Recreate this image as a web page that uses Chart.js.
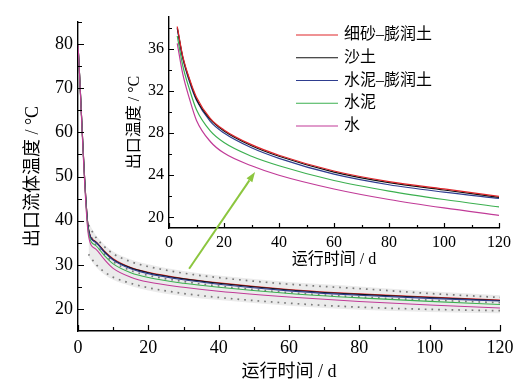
<!DOCTYPE html>
<html>
<head>
<meta charset="utf-8">
<script src="https://cdn.jsdelivr.net/npm/chart.js@4.4.1/dist/chart.umd.min.js"></script>
<style>
    html, body { margin: 0; padding: 0; background: #fff; }
    #wrap { position: relative; width: 528px; height: 386px; }
    #wrap canvas { position: absolute; left: 0; top: 0; }
</style>
</head>
<body>
<div id="wrap">
    <canvas id="mainChart" width="528" height="386"></canvas>
    <canvas id="insetChart" width="528" height="386"></canvas>
</div>
<script>
// running time (d)
const days = [3, 5, 7.5, 10, 15, 20, 30, 40, 60, 80, 100, 120];
const startTemp = 80;

// outlet temperature (°C) per backfill material
const fineSandBentonite = [38.1, 35.3, 33.1, 31.4, 29.4, 28.3, 26.9, 25.9, 24.4, 23.4, 22.7, 22.0];
const sandySoil         = [38.0, 35.2, 33.0, 31.2, 29.3, 28.2, 26.8, 25.8, 24.3, 23.3, 22.6, 21.9];
const cementBentonite   = [37.9, 35.1, 32.8, 31.1, 29.1, 28.0, 26.6, 25.6, 24.1, 23.1, 22.4, 21.8];
const cement            = [37.2, 34.4, 32.1, 30.2, 28.2, 27.1, 25.8, 24.9, 23.5, 22.5, 21.7, 21.0];
const water             = [36.5, 33.6, 31.2, 29.2, 27.2, 26.1, 24.9, 24.0, 22.7, 21.7, 20.9, 20.2];

// grey scatter band in the main plot
const bandUpper = [39.5, 36.8, 34.6, 33.0, 31.2, 30.1, 28.6, 27.6, 26.1, 25.1, 24.0, 23.1];
const bandLower = [31.8, 29.6, 27.8, 26.6, 25.2, 24.2, 22.9, 22.0, 20.7, 19.8, 19.3, 19.0];
const dotUpper  = [39.0, 36.3, 34.1, 32.5, 30.7, 29.6, 28.1, 27.1, 25.6, 24.6, 23.5, 22.6];
const dotMid    = [37.5, 34.7, 32.4, 30.7, 28.7, 27.6, 26.2, 25.2, 23.7, 22.7, 22.0, 21.4];
const dotLower  = [32.4, 30.2, 28.4, 27.2, 25.8, 24.8, 23.5, 22.6, 21.3, 20.4, 19.9, 19.6];

const seriesNames = ['细砂–膨润土', '沙土', '水泥–膨润土', '水泥', '水'];
const seriesColors = ['#e0262b', '#111111', '#2e3d8f', '#3cb050', '#c13b98'];
const seriesValues = [fineSandBentonite, sandySoil, cementBentonite, cement, water];

const mainXTicks = [0, 20, 40, 60, 80, 100, 120];
const mainXMinor = [10, 30, 50, 70, 90, 110];
const mainYTicks = [20, 30, 40, 50, 60, 70, 80];
const mainYMinor = [25, 35, 45, 55, 65, 75, 85];
const insetXTicks = [0, 20, 40, 60, 80, 100, 120];
const insetXMinor = [10, 30, 50, 70, 90, 110];
const insetYTicks = [20, 24, 28, 32, 36];
const insetYMinor = [22, 26, 30, 34, 38];

// arrow: from a point of the main plot to a point of the inset
const arrowFrom = [31.6, 29.1];
const arrowTo = [31.3, 24.3];

const serif = "'Liberation Serif', 'Noto Sans CJK SC', serif";

function toPoints(values) {
    return days.map((d, i) => ({ x: d, y: values[i] }));
}

// ticks pointing into the plot
const inwardTicks = {
    id: 'inwardTicks',
    afterDraw(chart, args, opts) {
        const { ctx, chartArea: a, scales: { x, y } } = chart;
        ctx.save();
        ctx.strokeStyle = '#000';
        ctx.lineWidth = 1.2;
        ctx.beginPath();
        opts.xMajor.forEach(v => { let p = Math.round(x.getPixelForValue(v)) + 0.5; ctx.moveTo(p, a.bottom); ctx.lineTo(p, a.bottom - opts.major); });
        opts.xMinor.forEach(v => { let p = Math.round(x.getPixelForValue(v)) + 0.5; ctx.moveTo(p, a.bottom); ctx.lineTo(p, a.bottom - opts.minor); });
        opts.yMajor.forEach(v => { let p = Math.round(y.getPixelForValue(v)) + 0.5; ctx.moveTo(a.left, p); ctx.lineTo(a.left + opts.major, p); });
        opts.yMinor.forEach(v => { let p = Math.round(y.getPixelForValue(v)) + 0.5; ctx.moveTo(a.left, p); ctx.lineTo(a.left + opts.minor, p); });
        ctx.stroke();
        ctx.restore();
    }
};

function axisOptions(min, max, ticks, fontSize, title, extra) {
    return Object.assign({
        type: 'linear',
        min: min,
        max: max,
        afterBuildTicks: s => { s.ticks = ticks.map(v => ({ value: v })); },
        grid: { display: true, drawOnChartArea: false, drawTicks: false },
        border: { display: true, color: '#000', width: 1.4 },
        ticks: { color: '#000', font: { family: serif, size: fontSize }, maxRotation: 0, autoSkip: false },
        title: { display: true, text: title, color: '#000', font: { family: serif, size: fontSize } }
    }, extra);
}

// main chart
let mainDatasets = [
    { data: toPoints(bandUpper), borderWidth: 0, pointRadius: 0, fill: '+1', backgroundColor: 'rgba(170,170,170,0.24)', order: 20 },
    { data: toPoints(bandLower), borderWidth: 0, pointRadius: 0, fill: false, order: 19 },
    { data: toPoints(dotUpper), borderWidth: 1.7, borderColor: '#7a7a7a', borderDash: [1.7, 5], pointRadius: 0, fill: false, order: 18 },
    { data: toPoints(dotMid), borderWidth: 1.7, borderColor: '#7a7a7a', borderDash: [1.7, 5], pointRadius: 0, fill: false, order: 17 },
    { data: toPoints(dotLower), borderWidth: 1.7, borderColor: '#7a7a7a', borderDash: [1.7, 5], pointRadius: 0, fill: false, order: 16 }
];
seriesValues.forEach((vals, i) => {
    mainDatasets.push({
        label: seriesNames[i],
        data: [{ x: 0, y: startTemp }].concat(toPoints(vals)),
        borderColor: seriesColors[i],
        borderWidth: 1.1,
        pointRadius: 0,
        fill: false,
        order: 10 - i
    });
});

let mainChart = new Chart(document.getElementById('mainChart'), {
    type: 'line',
    data: { datasets: mainDatasets },
    plugins: [inwardTicks],
    options: {
        responsive: false,
        animation: false,
        events: [],
        cubicInterpolationMode: 'monotone',
        layout: { padding: { left: 0, top: 22, right: 28, bottom: 0 } },
        plugins: {
            legend: { display: false },
            tooltip: { enabled: false },
            inwardTicks: { xMajor: mainXTicks, xMinor: mainXMinor, yMajor: mainYTicks, yMinor: mainYMinor, major: 6, minor: 4 }
        },
        scales: {
            x: axisOptions(0, 120, mainXTicks, 18, '运行时间 / d', {
                afterFit: s => { s.height = 55; }
            }),
            y: axisOptions(15, 85, mainYTicks, 18, '出口流体温度 / °C', {
                afterFit: s => { s.width = 78; }
            })
        }
    }
});
mainChart.options.scales.x.ticks.padding = 6;
mainChart.options.scales.x.title.padding = { top: 0, bottom: 3 };
mainChart.options.scales.y.ticks.padding = 5;
mainChart.options.scales.y.title.padding = { top: 22, bottom: 0 };
mainChart.update();

// legend inside the inset plot
const insetLegend = {
    id: 'insetLegend',
    afterDraw(chart) {
        const { ctx, chartArea: a } = chart;
        ctx.save();
        ctx.font = '16px ' + serif;
        ctx.textBaseline = 'middle';
        ctx.fillStyle = '#000';
        seriesNames.forEach((name, i) => {
            let yy = a.top + 18 + i * 22.75;
            ctx.strokeStyle = seriesColors[i];
            ctx.lineWidth = 1.2;
            ctx.beginPath();
            ctx.moveTo(a.right - 203, yy);
            ctx.lineTo(a.right - 161, yy);
            ctx.stroke();
            ctx.fillText(name, a.right - 155, yy);
        });
        ctx.restore();
    }
};

// green arrow from the main curves into the inset
const zoomArrow = {
    id: 'zoomArrow',
    afterDraw(chart) {
        const { ctx, scales: { x, y } } = chart;
        let x0 = mainChart.scales.x.getPixelForValue(arrowFrom[0]);
        let y0 = mainChart.scales.y.getPixelForValue(arrowFrom[1]);
        let x1 = x.getPixelForValue(arrowTo[0]);
        let y1 = y.getPixelForValue(arrowTo[1]);
        let ang = Math.atan2(y1 - y0, x1 - x0);
        let len = 10, half = 3.5;
        let bx = x1 - len * Math.cos(ang), by = y1 - len * Math.sin(ang);
        ctx.save();
        ctx.strokeStyle = '#8cc63f';
        ctx.fillStyle = '#8cc63f';
        ctx.lineWidth = 2;
        ctx.beginPath();
        ctx.moveTo(x0, y0);
        ctx.lineTo(bx, by);
        ctx.stroke();
        ctx.beginPath();
        ctx.moveTo(x1, y1);
        ctx.lineTo(bx + half * Math.sin(ang), by - half * Math.cos(ang));
        ctx.lineTo(bx - half * Math.sin(ang), by + half * Math.cos(ang));
        ctx.closePath();
        ctx.fill();
        ctx.restore();
    }
};

let insetDatasets = seriesValues.map((vals, i) => ({
    label: seriesNames[i],
    data: toPoints(vals),
    borderColor: seriesColors[i],
    borderWidth: 1.2,
    pointRadius: 0,
    fill: false,
    order: i
}));

let insetChart = new Chart(document.getElementById('insetChart'), {
    type: 'line',
    data: { datasets: insetDatasets },
    plugins: [inwardTicks, insetLegend, zoomArrow],
    options: {
        responsive: false,
        animation: false,
        events: [],
        cubicInterpolationMode: 'monotone',
        layout: { padding: { left: 120, top: 17, right: 29, bottom: 115 } },
        plugins: {
            legend: { display: false },
            tooltip: { enabled: false },
            inwardTicks: { xMajor: insetXTicks, xMinor: insetXMinor, yMajor: insetYTicks, yMinor: insetYMinor, major: 5, minor: 3 }
        },
        scales: {
            x: axisOptions(0, 120, insetXTicks, 16, '运行时间 / d', {
                afterFit: s => { s.height = 43; }
            }),
            y: axisOptions(19, 39, insetYTicks, 16, '出口温度 / °C', {
                afterFit: s => { s.width = 49; }
            })
        }
    }
});
insetChart.options.scales.x.ticks.padding = 5;
insetChart.options.scales.x.title.padding = { top: 0, bottom: 2 };
insetChart.options.scales.y.ticks.padding = 5;
insetChart.options.scales.y.title.padding = { top: 5, bottom: 0 };
insetChart.update();
</script>
</body>
</html>
